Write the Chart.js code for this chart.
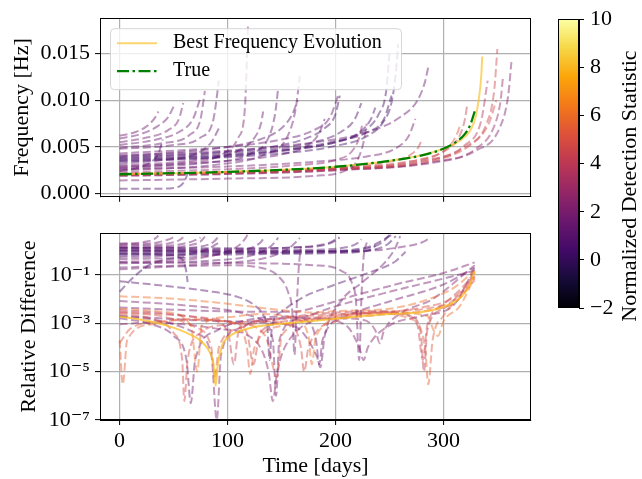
<!DOCTYPE html>
<html>
<head>
<meta charset="utf-8">
<script src="https://cdn.jsdelivr.net/npm/chart.js@4.4.0/dist/chart.umd.min.js"></script>
<style>
  html, body { margin: 0; padding: 0; background: #fff; }
  #wrap { position: relative; width: 642px; height: 479px; overflow: hidden; }
  canvas { position: absolute; }
</style>
</head>
<body>
<div id="wrap">
  <canvas id="top" width="545" height="215" style="left:0;top:0"></canvas>
  <canvas id="bottom" width="545" height="264" style="left:0;top:215px"></canvas>
  <canvas id="cbar" width="102" height="479" style="left:540px;top:0"></canvas>
</div>
<script>
// ---- data ----
const xTicks = [0, 100, 200, 300];
const topYTicks = [0, 0.005, 0.010, 0.015];
const topYLabels = ["0.000", "0.005", "0.010", "0.015"];
const logYTicks = [1e-7, 1e-5, 1e-3, 1e-1];
const logYLabels = ["10⁻⁷", "10⁻⁵", "10⁻³", "10⁻¹"];
const cbarTicks = [-2, 0, 2, 4, 6, 8, 10];
const cbarLabels = ["−2", "0", "2", "4", "6", "8", "10"];
const legendItems = ["Best Frequency Evolution", "True"];

// [time (days), frequency (Hz)]
const trueFreq = [[0,0.00207],[100,0.00232],[200,0.00287],[250,0.0035],[280,0.0041],[300,0.0048],[310,0.0054],[320,0.0064],[325,0.0074],[329,0.0088]];
const bestFreq = [[0,0.00207],[100,0.00232],[200,0.00287],[250,0.0035],[280,0.0041],[300,0.0048],[310,0.0053],[320,0.0061],[326,0.0070],[330,0.0083],[333,0.0103],[335,0.0125],[336,0.0147]];

// detection statistic of each candidate track (top panel)
const topStats = [0.4,0.6,0.8,0.5,0.7,0.3, 1.8,1.6,1.9,1.5,1.7,1.4, 2.0,1.5,1.3,1.6,1.2, 0.6,1.8, 1.6,1.5, 4.6,4.3,4.5,3.8,2.2,3.0,4.8,5.2, 1.9,1.4,2.5,1.2,0.8];
const topCurves = [
  [[0,0.0034],[100,0.0039],[150,0.0043],[200,0.0051],[230,0.0062],[245,0.0078],[252,0.0098],[256,0.0130],[258,0.0160]],
  [[0,0.0036],[100,0.0041],[150,0.0046],[200,0.0055],[225,0.0066],[240,0.0085],[247,0.0110],[250,0.0150]],
  [[0,0.0038],[100,0.0044],[150,0.0049],[180,0.0055],[205,0.0066],[218,0.0080],[224,0.0097]],
  [[0,0.0039],[100,0.0045],[140,0.0050],[170,0.0058],[190,0.0070],[200,0.0085],[204,0.0105]],
  [[0,0.0035],[100,0.0040],[160,0.0047],[200,0.0055],[220,0.0064],[232,0.0078],[237,0.0092]],
  [[0,0.0037],[100,0.0042],[150,0.0047],[200,0.0056],[230,0.0066],[245,0.0080],[252,0.0105]],
  [[0,0.0062],[15,0.0066],[25,0.0072],[32,0.0080],[36,0.0088]],
  [[0,0.0059],[20,0.0064],[35,0.0072],[45,0.0082],[50,0.0093]],
  [[0,0.0055],[25,0.0060],[45,0.0068],[55,0.0080],[59,0.0097]],
  [[0,0.0052],[30,0.0057],[55,0.0066],[68,0.0080],[75,0.0103]],
  [[0,0.0049],[40,0.0054],[65,0.0063],[75,0.0080],[79,0.0110]],
  [[0,0.0048],[50,0.0052],[75,0.0060],[87,0.0080],[92,0.0121]],
  [[0,0.0028],[60,0.0033],[95,0.0042],[110,0.0060],[116,0.0090],[119,0.0181]],
  [[0,0.0030],[70,0.0036],[110,0.0046],[125,0.0060],[131,0.0075],[133,0.0088]],
  [[0,0.0027],[80,0.0033],[120,0.0042],[138,0.0060],[144,0.0085],[147,0.0114]],
  [[0,0.0025],[90,0.0031],[135,0.0042],[155,0.0060],[163,0.0090],[167,0.0126]],
  [[0,0.0032],[40,0.0036],[70,0.0042],[85,0.0055],[92,0.0070]],
  [[0,0.0005],[30,0.0005],[50,0.0006],[58,0.0010],[62,0.0018],[64,0.0026]],
  [[0,0.0014],[100,0.0016],[181,0.0019],[210,0.0025],[220,0.0035],[226,0.0055],[229,0.0075]],
  [[0,0.0041],[100,0.0046],[181,0.0055],[230,0.0066],[260,0.0082],[276,0.0100],[283,0.0120],[286,0.0136]],
  [[0,0.0043],[100,0.0050],[150,0.0058],[180,0.0068],[195,0.0082],[203,0.0107]],
  [[0,0.0021],[100,0.0023],[200,0.0028],[250,0.0034],[270,0.0042],[277,0.0050],[280,0.0058]],
  [[0,0.0021],[100,0.0023],[200,0.0027],[260,0.0033],[300,0.0045],[315,0.0062],[320,0.0080],[322,0.0095]],
  [[0,0.0020],[100,0.0022],[200,0.0026],[280,0.0034],[320,0.0050],[340,0.0075],[347,0.0110],[350,0.0155]],
  [[0,0.0020],[100,0.0022],[200,0.0026],[280,0.0035],[320,0.0052],[335,0.0078],[341,0.0121]],
  [[0,0.0019],[100,0.0021],[200,0.0025],[290,0.0033],[330,0.0046],[352,0.0070],[360,0.0105],[363,0.0141]],
  [[0,0.0019],[100,0.0021],[200,0.0025],[290,0.0034],[330,0.0048],[348,0.0075],[353,0.0100],[355,0.0123]],
  [[0,0.0020],[100,0.0022],[200,0.0026],[290,0.0035],[325,0.0052],[342,0.0075],[349,0.0100]],
  [[0,0.0021],[200,0.0027],[280,0.0037],[305,0.0050],[313,0.0065],[316,0.0075]],
  [[0,0.0026],[100,0.0029],[180,0.0034],[230,0.0040],[255,0.0048],[268,0.0062],[274,0.0080]],
  [[0,0.0029],[60,0.0032],[110,0.0036],[150,0.0042],[175,0.0052],[185,0.0065],[190,0.0080]],
  [[0,0.0023],[100,0.0026],[160,0.0030],[200,0.0036],[215,0.0045],[222,0.0060],[225,0.0075]],
  [[0,0.0040],[60,0.0045],[100,0.0050],[130,0.0058],[150,0.0070],[160,0.0085],[165,0.0100]],
  [[0,0.0024],[15,0.0027],[28,0.0033],[36,0.0043],[40,0.0058]]
];

// [time (days), relative difference]
const bestRel = [[0,0.0019],[20,0.0014],[44,0.0008],[65,0.00035],[75,0.00019],[83,0.00007],[87,0.00002],[89,0.0000026],[91,0.00002],[95,0.00012],[100,0.00025],[122,0.00065],[150,0.00095],[181,0.00126],[243,0.0023],[280,0.0029],[298,0.0044],[310,0.0075],[317,0.013],[324,0.035],[329,0.14]];

const bottomStats = [0.4,0.6,0.8,0.5,0.3,0.7,1.6,1.5, 1.8,1.6,1.9,1.5,1.7,1.4, 2.0,1.5,1.3,1.6, 0.6,1.8,1.2,1.0,0.5,1.9, 6.0,4.5,5.0,5.5,4.8,4.2,6.0,5.2, 2.0,2.2,1.8,2.4,2.0,1.7];
const bottomCurves = [
  [[0,0.75],[100,0.78],[200,0.88],[235,1.1],[248,1.8],[256,4.0]],
  [[0,0.85],[100,0.86],[200,0.95],[230,1.25],[244,2.3],[250,4.5]],
  [[0,1.1],[100,1.05],[180,1.1],[210,1.4],[220,2.0],[224,3.0]],
  [[0,1.3],[100,1.25],[170,1.4],[195,2.0],[204,3.5]],
  [[0,0.95],[100,0.92],[200,1.0],[232,1.5],[240,2.2],[252,4.5]],
  [[0,0.65],[100,0.7],[200,0.8],[230,1.0],[237,1.6]],
  [[0,1.0],[100,0.95],[181,0.95],[230,1.0],[260,1.4],[280,2.2],[286,3.0]],
  [[0,1.08],[100,1.15],[150,1.3],[180,1.6],[195,2.2],[203,3.6]],
  [[0,2.0],[15,2.1],[25,2.4],[32,3.0],[36,4.2]],
  [[0,1.85],[20,1.95],[35,2.2],[45,2.9],[50,3.6]],
  [[0,1.65],[25,1.75],[45,2.0],[55,2.7],[59,3.6]],
  [[0,1.5],[30,1.55],[55,1.8],[68,2.5],[75,3.5]],
  [[0,1.35],[40,1.4],[65,1.7],[75,2.4],[79,3.8]],
  [[0,1.3],[50,1.3],[75,1.5],[87,2.3],[92,4.0]],
  [[0,0.35],[60,0.42],[95,0.8],[110,1.6],[116,3.0],[119,5.0]],
  [[0,0.45],[70,0.55],[110,0.95],[125,1.5],[131,2.3],[133,3.0]],
  [[0,0.3],[80,0.38],[120,0.6],[138,1.3],[144,2.3],[147,3.5]],
  [[0,0.2],[90,0.3],[135,0.5],[155,1.1],[163,2.2],[167,3.4]],
  [[0,0.75],[30,0.74],[45,0.68],[55,0.55],[60,0.3],[62,0.12],[63,0.05]],
  [[0,0.33],[100,0.31],[181,0.25],[205,0.15],[215,0.05],[219,0.008],[222,0.00003],[224,0.01],[226,0.5],[229,2.2]],
  [[0,0.55],[40,0.6],[70,0.8],[85,1.4],[92,2.2]],
  [[0,0.055],[40,0.036],[80,0.022],[110,0.012],[125,0.0055],[133,0.0022],[137,0.0006],[139,0.00003],[141,0.0006],[150,0.003],[170,0.012],[200,0.04],[230,0.12],[255,0.35],[265,0.9]],
  [[0,0.02],[10,0.06],[20,0.15],[30,0.3],[45,0.45],[60,0.55]],
  [[0,0.17],[50,0.22],[100,0.25],[130,0.2],[148,0.08],[156,0.02],[160,0.003],[162,0.00005],[164,0.004],[166,0.2],[168,1.5]],
  [[0,0.013],[40,0.011],[80,0.008],[120,0.005],[150,0.0035],[180,0.0028],[200,0.0032],[250,0.004],[280,0.008],[310,0.03],[329,0.15]],
  [[0,0.003],[50,0.0022],[100,0.0012],[118,0.0004],[124,0.00002],[130,0.0004],[160,0.0013],[200,0.0022],[240,0.0028],[265,0.0022],[276,0.0008],[281,0.00003],[285,0.0008],[300,0.006],[320,0.04],[329,0.13]],
  [[0,0.0028],[40,0.0019],[70,0.0007],[85,0.0001],[88,0.000005],[92,0.0001],[110,0.0006],[150,0.0015],[200,0.0024],[250,0.0030],[280,0.0045],[310,0.012],[329,0.09]],
  [[0,0.0002],[3,0.000003],[7,0.0002],[30,0.0009],[60,0.0015],[90,0.0013],[110,0.0008],[118,0.0001],[121,0.000008],[125,0.0001],[150,0.0008],[200,0.002],[240,0.0025],[270,0.0015],[283,0.0001],[286,0.000003],[290,0.0002],[300,0.002],[320,0.02],[329,0.1]],
  [[0,0.0025],[30,0.0015],[50,0.0004],[58,0.00003],[60,0.0000006],[63,0.00003],[75,0.0004],[100,0.0009],[130,0.0012],[160,0.0008],[168,0.0001],[171,0.00001],[175,0.0001],[200,0.0012],[240,0.0022],[290,0.0036],[310,0.007],[329,0.06]],
  [[0,0.0035],[40,0.0026],[80,0.0015],[100,0.0005],[106,0.00002],[110,0.0004],[140,0.0015],[190,0.0026],[240,0.0032],[270,0.002],[279,0.0004],[282,0.00001],[285,0.0005],[300,0.004],[320,0.03],[329,0.12]],
  [[0,0.004],[40,0.003],[66,0.0008],[72,0.00001],[76,0.0008],[100,0.0018],[130,0.0024],[160,0.0018],[175,0.0003],[178,0.00002],[182,0.0003],[210,0.0018],[250,0.0028],[285,0.0020],[291,0.0005],[295,0.0003],[300,0.0012],[315,0.005],[329,0.08]],
  [[0,0.00015],[10,0.0006],[40,0.0012],[70,0.0014],[110,0.0010],[135,0.0003],[146,0.000006],[150,0.0003],[180,0.0014],[230,0.0028],[260,0.0032],[290,0.0045],[310,0.009],[329,0.07]],
  [[0,0.0083],[50,0.006],[100,0.0035],[130,0.0015],[142,0.0002],[145,0.000001],[148,0.0002],[165,0.0015],[200,0.005],[250,0.02],[300,0.07],[329,0.15]],
  [[0,0.002],[40,0.0012],[70,0.0004],[85,0.00005],[90,0.0000001],[94,0.00005],[110,0.0006],[140,0.0015],[180,0.0016],[210,0.0008],[222,0.0001],[226,0.00003],[230,0.0001],[250,0.0008],[280,0.002],[310,0.006],[329,0.2]],
  [[0,0.0016],[30,0.0009],[50,0.0003],[62,0.00003],[66,0.0000005],[70,0.00003],[90,0.0005],[120,0.0014],[150,0.0019],[175,0.0012],[182,0.0002],[185,0.00002],[188,0.0002],[210,0.002],[250,0.008],[300,0.04],[329,0.2]],
  [[0,0.0009],[30,0.0011],[60,0.0009],[90,0.0006],[125,0.0002],[138,0.00001],[142,0.0000006],[146,0.00001],[160,0.0003],[200,0.0016],[225,0.0014],[237,0.0005],[241,0.00015],[245,0.0005],[260,0.0025],[290,0.01],[329,0.25]],
  [[0,0.0045],[60,0.0035],[120,0.003],[160,0.003],[190,0.006],[220,0.015],[260,0.045],[300,0.12],[329,0.33]],
  [[0,0.002],[100,0.0012],[160,0.0008],[183,0.00004],[186,0.000015],[190,0.0003],[205,0.008],[225,0.05],[245,0.3],[255,1.2],[260,4.0]]
];

// ---- styling ----
const FONT = "'Liberation Serif', 'DejaVu Serif', serif";
Chart.defaults.font.family = FONT;
Chart.defaults.font.size = 22;
Chart.defaults.color = "#000";

const INFERNO = ["#000004","#160b39","#420a68","#6a176e","#932667","#bc3754","#dd513a","#f37819","#fca50a","#f6d746","#fcffa4"];
function hexRgb(h) { return [1, 3, 5].map(i => parseInt(h.substr(i, 2), 16)); }
function inferno(v, alpha) {
  let t = (v + 2) / 12;
  t = Math.max(0, Math.min(1, t));
  const x = t * 10, i = Math.min(9, Math.floor(x)), f = x - i;
  const a = hexRgb(INFERNO[i]), b = hexRgb(INFERNO[i + 1]);
  const c = a.map((ai, k) => Math.round(ai + (b[k] - ai) * f));
  return alpha === undefined ? `rgb(${c})` : `rgba(${c},${alpha})`;
}

const pts = arr => arr.map(([x, y]) => ({ x, y }));
const dashed = (curve, stat) => ({
  data: pts(curve), borderColor: inferno(stat, 0.45), borderWidth: 2,
  borderDash: [8, 3.6], pointRadius: 0, cubicInterpolationMode: "monotone", fill: false
});

const frame = {
  id: "frame",
  afterDraw(chart) {
    const { ctx, chartArea: a } = chart;
    ctx.save();
    ctx.strokeStyle = "#000";
    ctx.lineWidth = 1;
    ctx.strokeRect(Math.round(a.left) + 0.5, Math.round(a.top) + 0.5, Math.round(a.right - a.left) - 1, Math.round(a.bottom - a.top) - 1);
    ctx.restore();
  }
};

const legendBox = {
  id: "legendBox",
  afterDatasetsDraw(chart) {
    const { ctx, chartArea: a } = chart;
    const x = a.left + 10, y = a.top + 10, w = 291, h = 61;
    ctx.save();
    ctx.beginPath();
    if (ctx.roundRect) ctx.roundRect(x + 0.5, y + 0.5, w, h, 4); else ctx.rect(x + 0.5, y + 0.5, w, h);
    ctx.fillStyle = "rgba(255,255,255,0.8)";
    ctx.fill();
    ctx.strokeStyle = "#d6d6d6";
    ctx.lineWidth = 1;
    ctx.stroke();
    legendItems.forEach((label, i) => {
      const ds = chart.data.datasets.find(d => d.label === label);
      const cy = y + 15 + i * 28;
      ctx.beginPath();
      ctx.setLineDash(ds.borderDash || []);
      ctx.strokeStyle = ds.borderColor;
      ctx.lineWidth = ds.borderWidth;
      ctx.moveTo(x + 7, cy);
      ctx.lineTo(x + 47, cy);
      ctx.stroke();
      ctx.setLineDash([]);
      ctx.fillStyle = "#000";
      ctx.font = "20px " + FONT;
      ctx.textBaseline = "middle";
      ctx.fillText(label, x + 63, cy);
    });
    ctx.restore();
  }
};

const gridOpts = { color: "#b0b0b0", lineWidth: 1.2, tickColor: "#000", tickLength: 5, tickWidth: 1 };
const xScale = (showLabels, height) => ({
  type: "linear", min: -18.15, max: 381.15,
  afterBuildTicks: s => { s.ticks = xTicks.map(v => ({ value: v })); },
  afterFit: s => { s.height = height; },
  grid: gridOpts, border: { color: "#000" },
  ticks: { padding: 3, autoSkip: false, maxRotation: 0, callback: v => showLabels ? String(v) : "" },
  title: showLabels ? { display: true, text: "Time [days]", padding: { top: 0, bottom: 0 } } : { display: false }
});

// ---- top panel ----
const topSets = [
  { label: "True", data: pts(trueFreq), borderColor: "#008000", borderWidth: 2.3, borderDash: [12, 3.5, 2.5, 3.5], pointRadius: 0, cubicInterpolationMode: "monotone" },
  { label: "Best Frequency Evolution", data: pts(bestFreq), borderColor: "rgba(251,190,35,0.65)", borderWidth: 2, pointRadius: 0, cubicInterpolationMode: "monotone" }
].concat(topCurves.map((c, i) => dashed(c, topStats[i])));

new Chart(document.getElementById("top"), {
  type: "line",
  data: { datasets: topSets },
  options: {
    responsive: false, animation: false, events: [],
    layout: { padding: { top: 15, right: 14, bottom: 5, left: 0 } },
    plugins: { legend: { display: false }, tooltip: { enabled: false } },
    scales: {
      x: xScale(false, 10),
      y: {
        type: "linear", min: -0.00035, max: 0.0188,
        afterBuildTicks: s => { s.ticks = topYTicks.map(v => ({ value: v })); },
        afterFit: s => { s.width = 100; },
        grid: gridOpts, border: { color: "#000" },
        ticks: { padding: 5, autoSkip: false, callback: (v, i) => topYLabels[i] },
        title: { display: true, text: "Frequency [Hz]", padding: { top: 9, bottom: 0 } }
      }
    }
  },
  plugins: [frame, legendBox]
});

// ---- bottom panel ----
const bottomSets = [
  { label: "Best Frequency Evolution", data: pts(bestRel), borderColor: "rgba(251,190,35,0.75)", borderWidth: 2, pointRadius: 0, cubicInterpolationMode: "monotone" }
].concat(bottomCurves.map((c, i) => dashed(c, bottomStats[i])));

new Chart(document.getElementById("bottom"), {
  type: "line",
  data: { datasets: bottomSets },
  options: {
    responsive: false, animation: false, events: [],
    layout: { padding: { top: 18, right: 14, bottom: 0, left: 0 } },
    plugins: { legend: { display: false }, tooltip: { enabled: false } },
    scales: {
      x: xScale(true, 59),
      y: {
        type: "logarithmic", min: 1e-7, max: 5.3,
        afterBuildTicks: s => { s.ticks = logYTicks.map(v => ({ value: v })); },
        afterFit: s => { s.width = 100; },
        grid: gridOpts, border: { color: "#000" },
        ticks: { padding: 5, autoSkip: false, callback: (v, i) => logYLabels[i] },
        title: { display: true, text: "Relative Difference", padding: { top: 16, bottom: 0 } }
      }
    }
  },
  plugins: [frame]
});

// ---- colour bar ----
const cbarLabel = {
  id: "cbarLabel",
  afterDraw(chart) {
    const ctx = chart.ctx;
    ctx.save();
    ctx.translate(90, 186);
    ctx.rotate(-Math.PI / 2);
    ctx.font = "22px " + FONT;
    ctx.fillStyle = "#000";
    ctx.textAlign = "center";
    ctx.textBaseline = "middle";
    ctx.fillText("Normalized Detection Statistic", 0, 0);
    ctx.restore();
  }
};

new Chart(document.getElementById("cbar"), {
  type: "bar",
  data: {
    labels: ["c"],
    datasets: [{
      data: [[-2, 10]], borderWidth: 0, barPercentage: 1, categoryPercentage: 1,
      backgroundColor: ctx => {
        const a = ctx.chart.chartArea;
        if (!a) return "#000";
        const g = ctx.chart.ctx.createLinearGradient(0, a.bottom, 0, a.top);
        INFERNO.forEach((c, i) => g.addColorStop(i / 10, c));
        return g;
      }
    }]
  },
  options: {
    responsive: false, animation: false, events: [],
    layout: { padding: { top: 15, right: 0, bottom: 171, left: 18 } },
    plugins: { legend: { display: false }, tooltip: { enabled: false } },
    scales: {
      x: { display: false },
      y: {
        position: "right", min: -2, max: 10,
        afterBuildTicks: s => { s.ticks = cbarTicks.map(v => ({ value: v })); },
        afterFit: s => { s.width = 63; },
        grid: { drawOnChartArea: false, tickColor: "#000", tickLength: 5 },
        border: { color: "#000" },
        ticks: { padding: 6, autoSkip: false, callback: (v, i) => cbarLabels[i] }
      }
    }
  },
  plugins: [frame, cbarLabel]
});
</script>
</body>
</html>
